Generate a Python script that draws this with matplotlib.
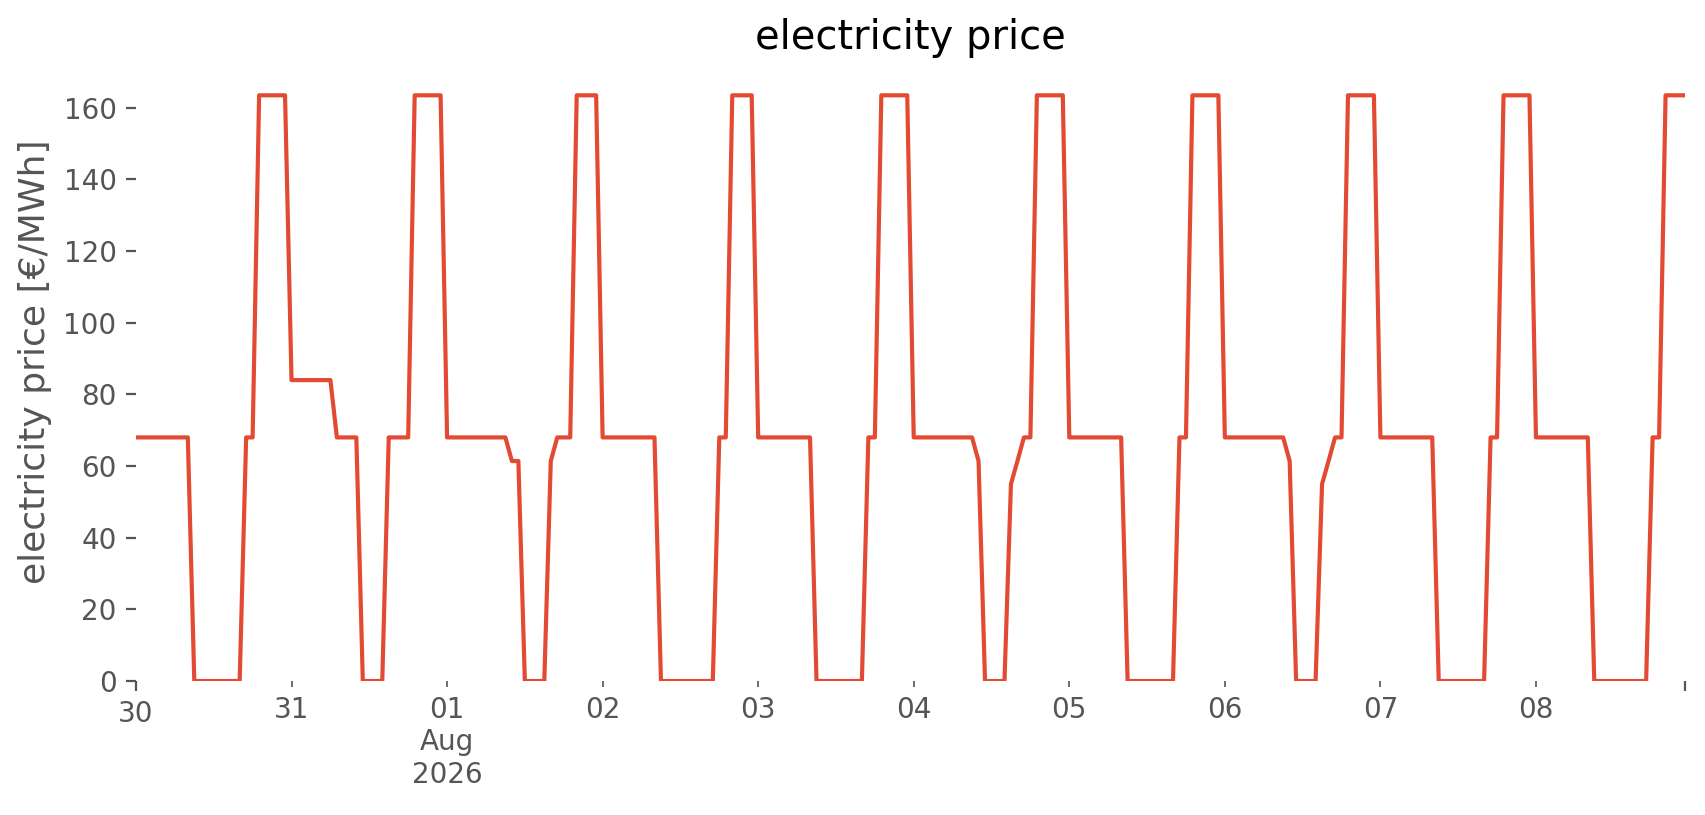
#!/usr/bin/env python3
"""Hourly electricity price, 30 Jul - 8 Aug 2026."""

import matplotlib
matplotlib.use("Agg")
import matplotlib.pyplot as plt
import matplotlib.dates as mdates
from matplotlib.ticker import FixedLocator, FixedFormatter, FuncFormatter
import pandas as pd

# hourly prices [EUR/MWh], one list per day (hours 0..23)
jul30 = [68, 68, 68, 68, 68, 68, 68, 68, 68, 0, 0, 0, 0, 0, 0, 0, 0, 68, 68,
         163.5, 163.5, 163.5, 163.5, 163.5]
jul31 = [84, 84, 84, 84, 84, 84, 84, 68, 68, 68, 68, 0, 0, 0, 0, 68, 68, 68, 68,
         163.5, 163.5, 163.5, 163.5, 163.5]
aug01 = [68, 68, 68, 68, 68, 68, 68, 68, 68, 68, 61.4, 61.4, 0, 0, 0, 0, 61.4,
         68, 68, 68, 163.5, 163.5, 163.5, 163.5]
aug02 = [68, 68, 68, 68, 68, 68, 68, 68, 68, 0, 0, 0, 0, 0, 0, 0, 0, 0, 68, 68,
         163.5, 163.5, 163.5, 163.5]
aug03 = [68, 68, 68, 68, 68, 68, 68, 68, 68, 0, 0, 0, 0, 0, 0, 0, 0, 68, 68,
         163.5, 163.5, 163.5, 163.5, 163.5]
aug04 = [68, 68, 68, 68, 68, 68, 68, 68, 68, 68, 61.4, 0, 0, 0, 0, 55, 61.4,
         68, 68, 163.5, 163.5, 163.5, 163.5, 163.5]
aug05 = [68, 68, 68, 68, 68, 68, 68, 68, 68, 0, 0, 0, 0, 0, 0, 0, 0, 68, 68,
         163.5, 163.5, 163.5, 163.5, 163.5]
aug06 = [68, 68, 68, 68, 68, 68, 68, 68, 68, 68, 61.4, 0, 0, 0, 0, 55, 61.4,
         68, 68, 163.5, 163.5, 163.5, 163.5, 163.5]
aug07 = [68, 68, 68, 68, 68, 68, 68, 68, 68, 0, 0, 0, 0, 0, 0, 0, 0, 68, 68,
         163.5, 163.5, 163.5, 163.5, 163.5]
aug08 = [68, 68, 68, 68, 68, 68, 68, 68, 68, 0, 0, 0, 0, 0, 0, 0, 0, 0, 68, 68,
         163.5, 163.5, 163.5, 163.5]

start = "2026-07-30 00:00"
prices = jul30 + jul31 + aug01 + aug02 + aug03 + aug04 + aug05 + aug06 + aug07 + aug08
times = pd.date_range(start, periods=len(prices), freq="h")

plt.style.use("ggplot")
plt.rcParams["axes.facecolor"] = "white"
plt.rcParams["axes.grid"] = False

DPI = 200
fig = plt.figure(figsize=(1706 / DPI, 815 / DPI), dpi=DPI)
ax = fig.add_axes([0.0797, 0.1644, 0.908, 0.7546])

ax.plot(times, prices, color="#E24A33", linewidth=1.5)

ax.set_title("electricity price", fontsize=14.4)
ax.set_ylabel("electricity price [€/MWh]", fontsize=13)
ax.yaxis.label.set_y(0.52)
ax.set_xlim(times[0], times[-1])
ax.set_ylim(bottom=0)
ax.set_yticks(range(0, 161, 20))

for s in ax.spines.values():
    s.set_visible(False)

# day ticks (short, labelled) plus longer ticks at both ends, pandas-like
ends = [mdates.date2num(times[0]), mdates.date2num(times[-1])]
ax.xaxis.set_major_locator(FixedLocator(ends))
ax.xaxis.set_major_formatter(FixedFormatter([times[0].strftime("%d"), ""]))
ax.xaxis.set_minor_locator(mdates.DayLocator())


def day_label(x, pos):
    d = mdates.num2date(x)
    if d.day == 1:
        return d.strftime("%d\n%b\n%Y")
    return d.strftime("%d")


ax.xaxis.set_minor_formatter(FuncFormatter(day_label))
ax.tick_params(axis="x", which="minor", labelsize=10, colors="#555555")

fig.savefig("out.png", dpi=DPI)
